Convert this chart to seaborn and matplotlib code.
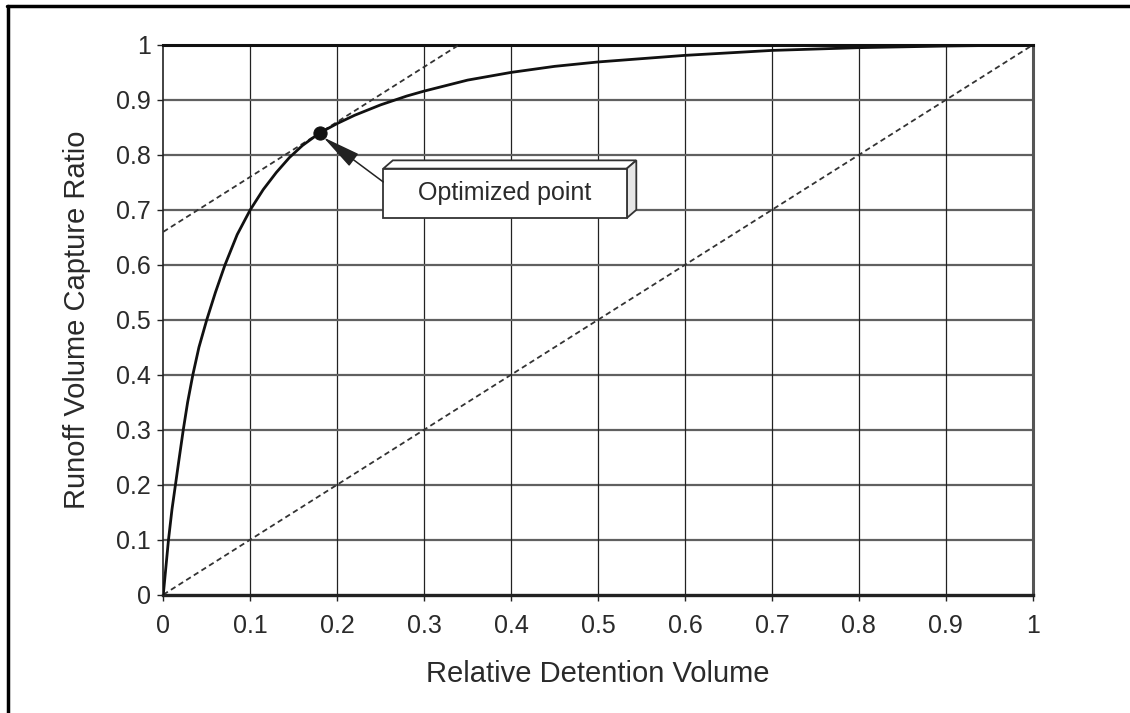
import numpy as np
import pandas as pd
import matplotlib
matplotlib.use("Agg")
import matplotlib.pyplot as plt
from matplotlib.patches import Rectangle, Polygon
from matplotlib.lines import Line2D
import seaborn as sns

# ---- data ----
rel_volume = [0.0, 0.003, 0.006, 0.01, 0.014, 0.018, 0.023, 0.028, 0.034, 0.041,
              0.05, 0.06, 0.071, 0.085, 0.1, 0.115, 0.13, 0.145, 0.16, 0.18,
              0.2, 0.22, 0.25, 0.28, 0.3, 0.35, 0.4, 0.45, 0.5, 0.6,
              0.7, 0.8, 0.9, 1.0]
capture_ratio = [0.0, 0.05, 0.1, 0.155, 0.2, 0.245, 0.3, 0.35, 0.4, 0.45,
                 0.5, 0.55, 0.6, 0.655, 0.7, 0.737, 0.768, 0.795, 0.817, 0.84,
                 0.857, 0.872, 0.891, 0.907, 0.916, 0.936, 0.95, 0.961, 0.969, 0.981,
                 0.99, 0.995, 0.998, 1.0]
diag_x = [0.0, 1.0]
diag_y = [0.0, 1.0]
tangent_x = [0.0, 0.34]
tangent_y = [0.66, 1.0]
opt_x = [0.18]
opt_y = [0.84]
ticks = [0, 0.1, 0.2, 0.3, 0.4, 0.5, 0.6, 0.7, 0.8, 0.9, 1]
tick_labels = ["0", "0.1", "0.2", "0.3", "0.4", "0.5", "0.6", "0.7", "0.8", "0.9", "1"]

sns.set_theme(style="white")
plt.rcParams['font.family'] = ['Liberation Sans', 'DejaVu Sans']

fig = plt.figure(figsize=(11.3, 7.13), dpi=100)
ax = fig.add_axes([0.1445, 0.166, 0.7695, 0.771])

# grid
for t in ticks[1:-1]:
    ax.axhline(t, color="#606060", lw=1.6, zorder=1)
    ax.axvline(t, color="#222222", lw=0.9, zorder=1)

curve = pd.DataFrame({"x": rel_volume, "y": capture_ratio})
sns.lineplot(data=curve, x="x", y="y", ax=ax, color="#111111", lw=2.0, zorder=4, sort=False)
sns.lineplot(x=diag_x, y=diag_y, ax=ax, color="#333333", lw=1.3,
             linestyle=(0, (3, 2)), zorder=3)
sns.lineplot(x=tangent_x, y=tangent_y, ax=ax, color="#333333", lw=1.3,
             linestyle=(0, (3, 2)), zorder=3)
sns.scatterplot(x=opt_x, y=opt_y, ax=ax, color="#111111", s=90, zorder=5, edgecolor="#111111")

ax.set_xlim(0, 1)
ax.set_ylim(0, 1)
ax.set_xticks(ticks)
ax.set_xticklabels(tick_labels)
ax.set_yticks(ticks)
ax.set_yticklabels(tick_labels)
ax.tick_params(axis="both", which="both", length=4, width=1, color="#222222",
               labelsize=18, labelcolor="#2a2a2a", pad=5, direction="out",
               bottom=True, left=True)
ax.tick_params(axis="x", pad=10)
ax.set_xlabel("Relative Detention Volume", fontsize=21, color="#2a2a2a", labelpad=16)
ax.set_ylabel("Runoff Volume Capture Ratio", fontsize=21, color="#2a2a2a", labelpad=18)

for side, sp in ax.spines.items():
    sp.set_visible(True)
ax.spines["top"].set_color("#111111"); ax.spines["top"].set_linewidth(2.2)
ax.spines["bottom"].set_color("#222222"); ax.spines["bottom"].set_linewidth(2.4)
ax.spines["right"].set_color("#555555"); ax.spines["right"].set_linewidth(2.2)
ax.spines["left"].set_color("#222222"); ax.spines["left"].set_linewidth(1.2)

# annotation box with 3D bevel
bx0, by0, bw, bh = 0.253, 0.685, 0.28, 0.09
dx, dy = 0.011, 0.015
ax.add_patch(Polygon([[bx0, by0 + bh], [bx0 + dx, by0 + bh + dy], [bx0 + bw + dx, by0 + bh + dy],
                      [bx0 + bw, by0 + bh]], closed=True, facecolor="white",
                     edgecolor="#333333", lw=1.3, zorder=6))
ax.add_patch(Polygon([[bx0 + bw, by0], [bx0 + bw, by0 + bh], [bx0 + bw + dx, by0 + bh + dy],
                      [bx0 + bw + dx, by0 + dy]], closed=True, facecolor="#e6e6e6",
                     edgecolor="#333333", lw=1.3, zorder=6))
ax.add_patch(Rectangle((bx0, by0), bw, bh, facecolor="white", edgecolor="#333333",
                       lw=1.3, zorder=6))
ax.text(bx0 + bw / 2, by0 + bh / 2, "Optimized point", ha="center", va="center",
        fontsize=18, color="#2a2a2a", zorder=7)
ax.annotate("", xy=(opt_x[0] + 0.004, opt_y[0] - 0.008), xytext=(bx0, by0 + bh * 0.73),
            arrowprops=dict(arrowstyle="-|>,head_length=2.0,head_width=0.4",
                            color="#222222", lw=1.1, shrinkA=0, shrinkB=0),
            zorder=6)

# outer scan frame
fig.add_artist(Line2D([0.006, 1.0], [0.991, 0.991], transform=fig.transFigure,
                      color="black", lw=2.5))
fig.add_artist(Line2D([0.0075, 0.0075], [0.0, 0.991], transform=fig.transFigure,
                      color="black", lw=2.5))

fig.savefig("out.png", dpi=100, facecolor="white")
